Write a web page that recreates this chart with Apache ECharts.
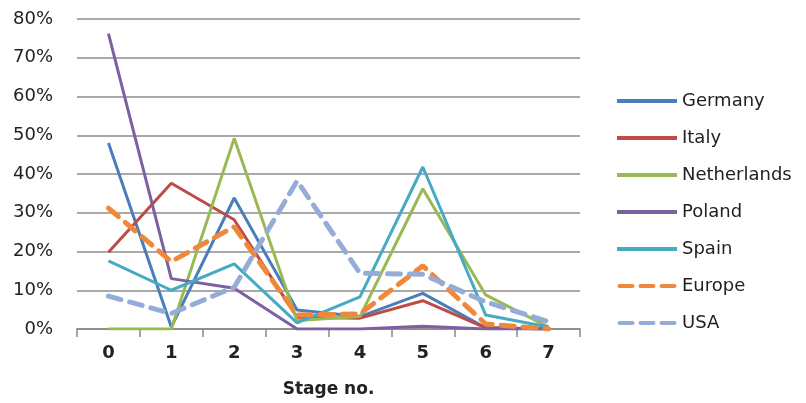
<!DOCTYPE html>
<html><head><meta charset="utf-8">
<script src="https://cdn.jsdelivr.net/npm/echarts@6/dist/echarts.min.js"></script>
<style>html,body{margin:0;padding:0;background:#fff}#c{width:806px;height:403px}</style>
</head><body><div id="c"></div>
<script>
const stages = ['0','1','2','3','4','5','6','7'];
const germany     = [48.0, 0.5, 33.8, 4.9, 3.2, 9.2, 0.3, 0];
const italy       = [19.8, 37.6, 28.2, 3.0, 2.8, 7.3, 0.3, 0];
const netherlands = [0, 0, 49.2, 2.2, 3.2, 36.2, 8.8, 0.5];
const poland      = [76.2, 13.0, 10.5, 0, 0, 0.7, 0, 0];
const spain       = [17.6, 10.0, 16.8, 1.6, 8.3, 41.8, 3.6, 0.5];
const europe      = [31.2, 17.4, 26.4, 3.6, 3.9, 16.3, 1.3, 0];
const usa         = [8.5, 4.0, 10.8, 38.2, 14.4, 14.1, 7.0, 1.9];
const yTicks = [0,10,20,30,40,50,60,70,80];

const font = 'DejaVu Sans';
const solidIcon = 'path://M0,0H60V4H0Z';
const dashIcon = 'path://M2,0H15A2,2 0 0 1 15,4H2A2,2 0 0 1 2,0Z M23,0H36A2,2 0 0 1 36,4H23A2,2 0 0 1 23,0Z M44,0H57A2,2 0 0 1 57,4H44A2,2 0 0 1 44,0Z';
function s(name, data, color, dashed){
  return {name, type:'line', data, symbol:'none', smooth:false,
    lineStyle: dashed ? {color, width:5, type:[13,9], cap:'round'} : {color, width:3},
    itemStyle:{color}};
}
const chart = echarts.init(document.getElementById('c'));
chart.setOption({
  animation:false,
  grid:{left:77, right:226, top:19, bottom:74},
  xAxis:{type:'category', data:stages, boundaryGap:true,
    name:'Stage no.', nameLocation:'middle', nameGap:52,
    nameTextStyle:{fontFamily:font, fontSize:17, fontWeight:'bold', color:'#222'},
    axisLine:{lineStyle:{color:'#888', width:1.5}},
    axisTick:{show:true, length:8, lineStyle:{color:'#888', width:1.5}},
    axisLabel:{fontFamily:font, fontSize:18, fontWeight:'bold', color:'#222', margin:15}},
  yAxis:{type:'value', min:0, max:80, interval:10,
    axisLine:{show:false}, axisTick:{show:false},
    splitLine:{lineStyle:{color:'#8c8c8c', width:1.5}},
    axisLabel:{fontFamily:font, fontSize:18, color:'#222', margin:24,
      formatter:v=>yTicks.includes(v)? v+'%' : ''}},
  legend:{orient:'vertical', left:612, top:87, itemWidth:60, itemHeight:4, itemGap:19,
    textStyle:{fontFamily:font, fontSize:18, color:'#222'},
    data:[
      {name:'Germany', icon:solidIcon},
      {name:'Italy', icon:solidIcon},
      {name:'Netherlands', icon:solidIcon},
      {name:'Poland', icon:solidIcon},
      {name:'Spain', icon:solidIcon},
      {name:'Europe', icon:dashIcon},
      {name:'USA', icon:dashIcon}
    ]},
  series:[
    s('Germany', germany, '#4A7EBB'),
    s('Italy', italy, '#BE4B48'),
    s('Netherlands', netherlands, '#98B954'),
    s('Poland', poland, '#7D60A0'),
    s('Spain', spain, '#46AAC5'),
    s('Europe', europe, '#F0883C', true),
    s('USA', usa, '#95ACD8', true)
  ]
});
</script></body></html>
